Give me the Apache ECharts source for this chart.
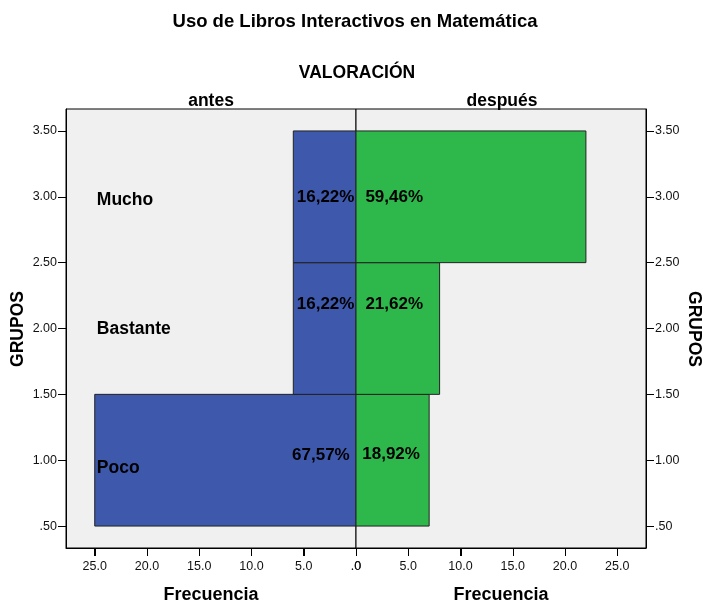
<!DOCTYPE html>
<html>
<head>
<meta charset="utf-8">
<script src="https://cdn.jsdelivr.net/npm/echarts@6/dist/echarts.min.js"></script>
<style>
html,body{margin:0;padding:0;background:#fff;}
#c{width:707px;height:603px;}
</style>
</head>
<body>
<div id="c"></div>
<script>
// ---- data ----
var groups = ['Poco', 'Bastante', 'Mucho'];
var groupLow = [0.5, 1.5, 2.5];
var groupHigh = [1.5, 2.5, 3.5];
var antes = [25, 6, 6];
var despues = [7, 8, 22];
var antesPct = ['67,57%', '16,22%', '16,22%'];
var despuesPct = ['18,92%', '21,62%', '59,46%'];
// label anchor positions (data units)
var groupLabelY = [0.94, 1.995, 2.975];
var groupLabelX = 24.8;
var antesLabelY = [1.038, 2.182, 2.993];
var antesLabelX = [0.6, 0.15, 0.15];
var despuesLabelY = [1.048, 2.182, 2.993];
var despuesLabelX = [0.6, 0.9, 0.9];
var xTicks = [0, 5, 10, 15, 20, 25];
var yTicks = [0.5, 1, 1.5, 2, 2.5, 3, 3.5];
var xMax = 27.75;
var yMin = 1 / 3, yMax = 11 / 3;

var FONT = 'Liberation Sans, Arial, sans-serif';
var BLUE = '#3E58AC', GREEN = '#2EB84B';

function xFmt(v) { return v === 0 ? '.0' : v.toFixed(1); }
function yFmt(v) { return v < 1 ? '.50' : v.toFixed(2); }

function barData(vals) {
  return vals.map(function (v, i) { return [groupLow[i], groupHigh[i], v]; });
}
function renderBar(color) {
  return function (params, api) {
    var y0 = api.value(0), y1 = api.value(1), x = api.value(2);
    var a = api.coord([0, y1]);
    var b = api.coord([x, y0]);
    return {
      type: 'rect',
      shape: {
        x: Math.min(a[0], b[0]), y: Math.min(a[1], b[1]),
        width: Math.abs(b[0] - a[0]), height: Math.abs(b[1] - a[1])
      },
      style: { fill: color, stroke: '#222', lineWidth: 1 }
    };
  };
}
function textSeries(gridIdx, xs, ys, texts, align, size) {
  return {
    type: 'custom',
    xAxisIndex: gridIdx, yAxisIndex: gridIdx,
    z: 5,
    data: texts.map(function (t, i) { return [Array.isArray(xs) ? xs[i] : xs, ys[i], i]; }),
    renderItem: function (params, api) {
      var p = api.coord([api.value(0), api.value(1)]);
      return {
        type: 'text',
        x: p[0], y: p[1],
        style: {
          text: texts[api.value(2)],
          fill: '#000',
          font: 'bold ' + size + 'px ' + FONT,
          align: align,
          verticalAlign: 'middle'
        }
      };
    }
  };
}
// x-axis tick marks, placed through the axis scale
function xTickSeries(gridIdx) {
  return {
    type: 'custom',
    xAxisIndex: gridIdx, yAxisIndex: gridIdx,
    clip: false, silent: true, z: 6,
    data: xTicks.map(function (v) { return [v, yMin]; }),
    renderItem: function (params, api) {
      var p = api.coord([api.value(0), api.value(1)]);
      var x = Math.round(p[0]) + 0.5, y = Math.round(p[1]);
      return {
        type: 'line',
        shape: { x1: x, y1: y, x2: x, y2: y + 8 },
        style: { stroke: '#000', lineWidth: 1 }
      };
    }
  };
}

function xAxisCfg(gridIdx, inverse, name) {
  return {
    type: 'value', gridIndex: gridIdx, inverse: inverse,
    min: 0, max: xMax, position: 'bottom',
    name: name, nameLocation: 'middle', nameGap: 38,
    nameTextStyle: { fontFamily: FONT, fontWeight: 'bold', fontSize: 18, color: '#000' },
    axisLine: { show: true, onZero: false, lineStyle: { color: '#000', width: 1 } },
    axisTick: { show: true, length: 8, lineStyle: { color: '#000', width: 1 }, customValues: xTicks },
    axisLabel: { customValues: xTicks, formatter: xFmt, fontFamily: FONT, fontSize: 12.5, color: '#111', margin: 12 },
    splitLine: { show: false }
  };
}
function yAxisCfg(gridIdx, pos) {
  return {
    type: 'value', gridIndex: gridIdx, position: pos,
    min: yMin, max: yMax,
    axisLine: { show: true, onZero: false, lineStyle: { color: '#000', width: 1 } },
    axisTick: { show: true, length: 8, lineStyle: { color: '#000', width: 1 }, customValues: yTicks },
    axisLabel: { customValues: yTicks, formatter: yFmt, fontFamily: FONT, fontSize: 12.5, color: '#111', margin: 9 },
    splitLine: { show: false }
  };
}

var titleStyle = function (size) {
  return { fontFamily: FONT, fontWeight: 'bold', fontSize: size, color: '#000' };
};

var chart = echarts.init(document.getElementById('c'), null, { renderer: 'canvas' });
chart.setOption({
  animation: false,
  backgroundColor: '#fff',
  title: [
    { text: 'Uso de Libros Interactivos en Matemática', left: 355, top: 12, textAlign: 'center', padding: 0,
      textStyle: titleStyle(18.5) },
    { text: 'VALORACIÓN', left: 357, top: 64, textAlign: 'center', padding: 0,
      textStyle: titleStyle(17.5) },
    { text: 'antes', left: 211, top: 92, textAlign: 'center', padding: 0,
      textStyle: titleStyle(17.5) },
    { text: 'después', left: 502, top: 92, textAlign: 'center', padding: 0,
      textStyle: titleStyle(17.5) }
  ],
  grid: [
    { left: 66, right: 351, top: 109, bottom: 55, outerBoundsMode: 'none', containLabel: false,
      show: true, backgroundColor: '#F0F0F0', borderColor: '#000', borderWidth: 1 },
    { left: 356, right: 61, top: 109, bottom: 55, outerBoundsMode: 'none', containLabel: false,
      show: true, backgroundColor: '#F0F0F0', borderColor: '#000', borderWidth: 1 }
  ],
  xAxis: [xAxisCfg(0, true, 'Frecuencia'), xAxisCfg(1, false, 'Frecuencia')],
  yAxis: [yAxisCfg(0, 'left'), yAxisCfg(1, 'right')],
  graphic: [
    { type: 'text', x: 18, y: 329, rotation: Math.PI / 2,
      style: { text: 'GRUPOS', font: 'bold 17.5px ' + FONT, fill: '#000', align: 'center', verticalAlign: 'middle' } },
    { type: 'text', x: 694, y: 329, rotation: -Math.PI / 2,
      style: { text: 'GRUPOS', font: 'bold 17.5px ' + FONT, fill: '#000', align: 'center', verticalAlign: 'middle' } }
  ],
  series: [
    { type: 'custom', name: 'antes', xAxisIndex: 0, yAxisIndex: 0, data: barData(antes), renderItem: renderBar(BLUE) },
    { type: 'custom', name: 'después', xAxisIndex: 1, yAxisIndex: 1, data: barData(despues), renderItem: renderBar(GREEN) },
    textSeries(0, groupLabelX, groupLabelY, groups, 'left', 17.5),
    textSeries(0, antesLabelX, antesLabelY, antesPct, 'right', 17),
    textSeries(1, despuesLabelX, despuesLabelY, despuesPct, 'left', 17),
    xTickSeries(0),
    xTickSeries(1)
  ]
});
</script>
</body>
</html>
